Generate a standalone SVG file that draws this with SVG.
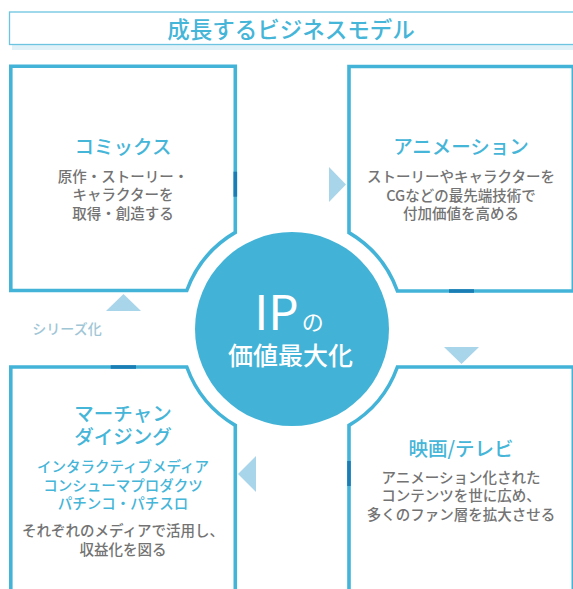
<svg xmlns="http://www.w3.org/2000/svg" width="573" height="589" viewBox="0 0 573 589">
<style>
.box{fill:#fff;stroke:#43b4d7;stroke-width:3.6;stroke-linejoin:miter}
.mk{stroke:#1a7db3;stroke-width:3.6;fill:none}
.ttl{font-family:"Noto Sans CJK JP","Noto Sans",sans-serif;fill:#45b5d8;text-anchor:middle;font-weight:500}
.hd{font-size:19.5px}
.bd{font-family:"Noto Sans CJK JP","Noto Sans",sans-serif;fill:#737373;font-size:14.5px;text-anchor:middle;font-weight:500}
.bl{font-family:"Noto Sans CJK JP","Noto Sans",sans-serif;fill:#45b5d8;font-size:14.5px;text-anchor:middle;font-weight:500}
.tri{fill:#a9d5ea}
.ipt{font-family:"Noto Sans CJK JP","Noto Sans",sans-serif;fill:#fff;text-anchor:middle}
</style>
<rect width="573" height="589" fill="#fff"/>
<g id="title">
<rect x="12" y="45" width="570" height="5" fill="#e0f2f8"/>
<rect x="9.5" y="12" width="570" height="32.5" fill="#fff" stroke="#6cc4e1" stroke-width="1.3"/>
<text class="ttl" x="291" y="37.5" font-size="22.5">成長するビジネスモデル</text>
</g>
<g id="comics">
<path class="box" d="M10.8,66.3 H235.3 V232.4 A112,112 0 0 0 186.8,290.5 H10.8 Z"/>
<line class="mk" x1="235.3" y1="171.7" x2="235.3" y2="196.7"/>
<text class="ttl hd" x="123" y="154">コミックス</text>
<text class="bd" x="123" y="181.5">原作・ストーリー・</text>
<text class="bd" x="123" y="200.2">キャラクターを</text>
<text class="bd" x="123" y="218.9">取得・創造する</text>
</g>
<g id="animation">
<path class="box" d="M349,66.5 H573.3 V291 H397.4 A112,112 0 0 0 349,232.6 Z"/>
<line class="mk" x1="449" y1="291" x2="474" y2="291"/>
<text class="ttl hd" x="461" y="154">アニメーション</text>
<text class="bd" x="461" y="182">ストーリーやキャラクターを</text>
<text class="bd" x="461" y="200.5">CGなどの最先端技術で</text>
<text class="bd" x="461" y="219">付加価値を高める</text>
</g>
<g id="film">
<path class="box" d="M349,600 V425.4 A112,112 0 0 0 397.4,367 H573.3 V600"/>
<line class="mk" x1="349" y1="461" x2="349" y2="486"/>
<text class="ttl hd" x="461" y="456">映画/テレビ</text>
<text class="bd" x="461" y="482.5">アニメーション化された</text>
<text class="bd" x="461" y="501">コンテンツを世に広め、</text>
<text class="bd" x="461" y="519.5">多くのファン層を拡大させる</text>
</g>
<g id="merchandising">
<path class="box" d="M10.8,600 V367 H186.8 A112,112 0 0 0 235.3,425.4 V600"/>
<line class="mk" x1="110.7" y1="367" x2="136" y2="367"/>
<text class="ttl hd" x="123" y="420.6">マーチャン</text>
<text class="ttl hd" x="123" y="444.1">ダイジング</text>
<text class="bl" x="123" y="471.6">インタラクティブメディア</text>
<text class="bl" x="123" y="490.8">コンシューマプロダクツ</text>
<text class="bl" x="123" y="509.2">パチンコ・パチスロ</text>
<text class="bd" x="123" y="535.8">それぞれのメディアで活用し、</text>
<text class="bd" x="123" y="555.2">収益化を図る</text>
</g>
<g id="ip">
<circle cx="292" cy="329" r="97" fill="#42b3d6"/>
<text class="ipt" x="289" y="330" font-weight="400"><tspan font-size="48">IP</tspan><tspan font-size="22" dx="3">の</tspan></text>
<text class="ipt" x="290.5" y="364.5" font-size="25" font-weight="500">価値最大化</text>
</g>
<g id="connectors">
<polygon class="tri" points="329,167 346,184.5 329,202"/>
<polygon class="tri" points="444,347 479,347 461.5,364"/>
<polygon class="tri" points="256,456 238,474 256,492"/>
<polygon class="tri" points="106,311 141,311 123.5,294"/>
<text x="67" y="334" text-anchor="middle" fill="#a0c6d6" font-family="'Noto Sans CJK JP',sans-serif" font-size="14" font-weight="500">シリーズ化</text>
</g>
</svg>
